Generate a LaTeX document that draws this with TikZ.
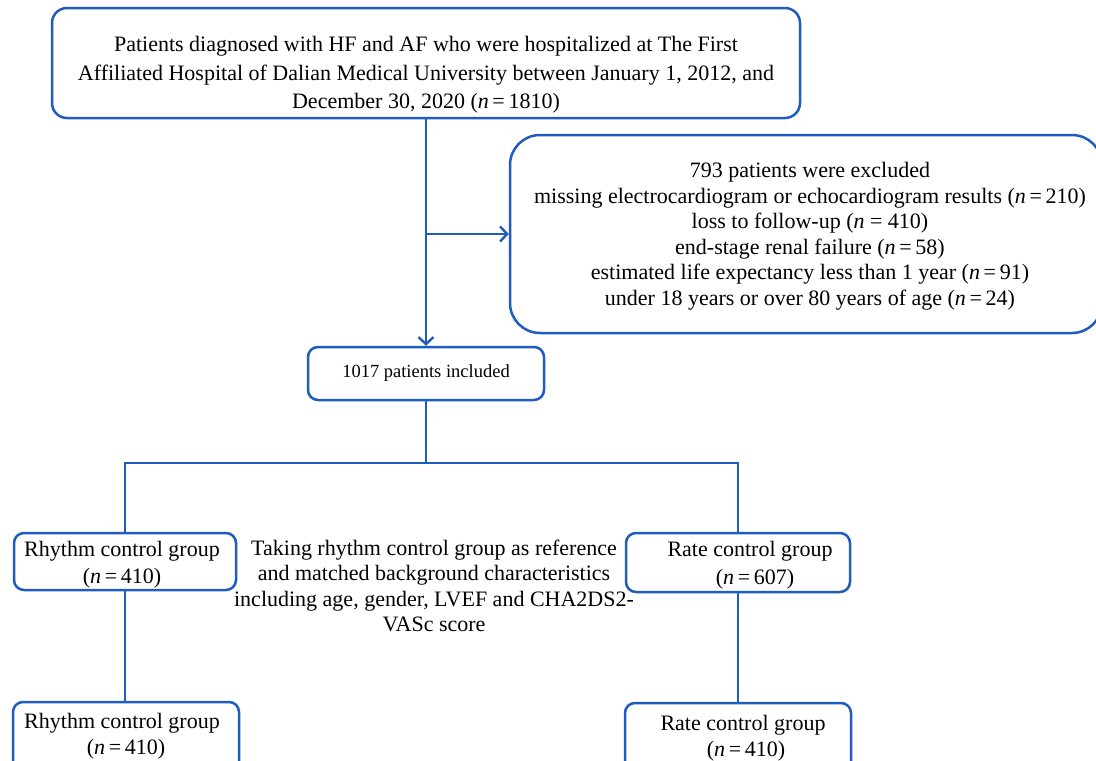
\documentclass[tikz,border=0pt]{standalone}
\usepackage{fontspec}
\setmainfont{Liberation Serif}
\usetikzlibrary{arrows.meta}
\definecolor{flowblue}{RGB}{30,92,190}
\tikzset{
  box/.style={draw=flowblue, line width=2.5pt, rounded corners=12pt, align=center, inner sep=0pt},
  conn/.style={draw=flowblue, line width=2.5pt},
  arr/.style={conn, -{Straight Barb[length=7pt,width=15pt,line width=2.4pt]}},
  txt/.style={font=\fontsize{22}{25.5}\selectfont, align=center, inner sep=0pt}
}
\begin{document}
\begin{tikzpicture}[x=1pt,y=-1pt]
\useasboundingbox (0,0) rectangle (1096,761);
\clip (0,0) rectangle (1096,761);
\fill[white] (0,0) rectangle (1096,761);
% boxes
\node[box, minimum width=748pt, minimum height=110pt, rounded corners=15pt] (top) at (426,63) {};
\node[txt, font=\fontsize{22}{28.5}\selectfont] (toptext) at (426,75)
  {Patients diagnosed with HF and AF who were hospitalized at The First\\
   Affiliated Hospital of Dalian Medical University between January 1, 2012, and\\
   December 30, 2020 (\textit{n}\,=\,1810)};
\node[box, minimum width=592pt, minimum height=198pt, rounded corners=30pt] (excl) at (806,234) {};
\node[txt] (excltext) at (810,236)
  {793 patients were excluded\\
   missing electrocardiogram or echocardiogram results (\textit{n}\,=\,210)\\
   loss to follow-up (\textit{n} = 410)\\
   end-stage renal failure (\textit{n}\,=\,58)\\
   estimated life expectancy less than 1 year (\textit{n}\,=\,91)\\
   under 18 years or over 80 years of age (\textit{n}\,=\,24)};
\node[box, minimum width=236pt, minimum height=53pt, rounded corners=10pt,
      font=\fontsize{18.5}{20}\selectfont] (incl) at (426,373.5) {1017 patients included};
\node[box, minimum width=222pt, minimum height=57pt, rounded corners=10pt] (rhy1) at (125,561.5) {};
\node[txt, font=\fontsize{22}{27}\selectfont] (rhy1text) at (122,565)
  {Rhythm control group\\(\textit{n}\,=\,410)};
\node[box, minimum width=224pt, minimum height=59pt, rounded corners=10pt] (rate1) at (738,562.5) {};
\node[txt, font=\fontsize{22}{28}\selectfont] (rate1text) at (750,565) {Rate control group\\\hspace*{10pt}(\textit{n}\,=\,607)};
\node[txt] (match) at (434,586)
  {Taking rhythm control group as reference\\
   and matched background characteristics\\
   including age, gender, LVEF and CHA2DS2-\\
   VASc score};
\node[box, minimum width=226pt, minimum height=70pt, rounded corners=10pt] (rhy2) at (126,737) {};
\node[txt, font=\fontsize{22}{26}\selectfont] (rhy2text) at (122,736) {Rhythm control group\\\hspace*{8pt}(\textit{n}\,=\,410)};
\node[box, minimum width=226pt, minimum height=70pt, rounded corners=10pt] (rate2) at (738,738) {};
\node[txt, font=\fontsize{22}{26}\selectfont] (rate2text) at (743,738) {Rate control group\\\hspace*{6pt}(\textit{n}\,=\,410)};
% connectors
\draw[arr] (top.south) -- (incl.north);
\draw[arr] (top.south |- excl.west) -- (excl.west);
\coordinate (split) at (426,463);
\draw[conn] (incl.south) -- (split);
\draw[conn] (rhy1.north) |- (split) -| (rate1.north);
\draw[conn] (rhy1.south) -- (rhy1.south |- rhy2.north);
\draw[conn] (rate1.south) -- (rate1.south |- rate2.north);
\end{tikzpicture}
\end{document}
